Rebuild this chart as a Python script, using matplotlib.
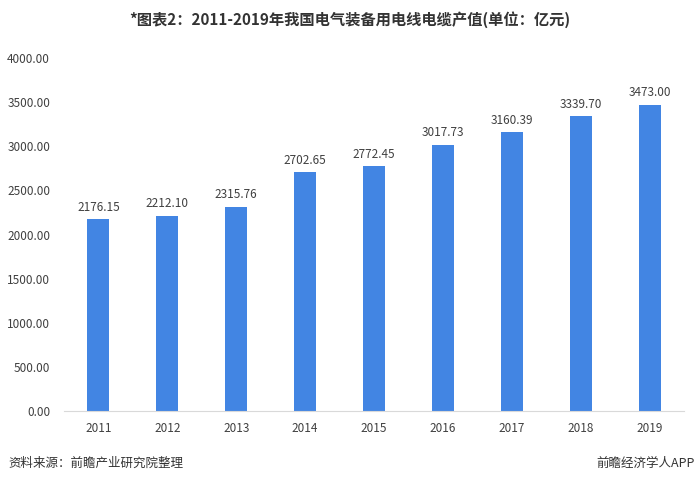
import matplotlib
matplotlib.use("Agg")
import matplotlib.pyplot as plt

plt.rcParams['font.family'] = ['Noto Sans CJK SC', 'DejaVu Sans']

years = ["2011", "2012", "2013", "2014", "2015", "2016", "2017", "2018", "2019"]
values = [2176.15, 2212.10, 2315.76, 2702.65, 2772.45, 3017.73, 3160.39, 3339.70, 3473.00]
yticks = [0, 500, 1000, 1500, 2000, 2500, 3000, 3500, 4000]

fig = plt.figure(figsize=(7, 4.84), dpi=100)
ax = fig.add_axes([64 / 700, 73 / 484, 620 / 700, 353 / 484])

x = range(len(years))
ax.bar(x, values, width=0.32, color="#4285E3")

# labels above bars
for i, v in enumerate(values):
    ax.text(i, v + 60, "%.2f" % v, ha="center", va="bottom", fontsize=8.5, color="#404040")

ax.set_xlim(-0.5, len(years) - 0.5)
ax.set_ylim(0, 4000)
ax.set_xticks(list(x))
ax.set_xticklabels(years, fontsize=8.5, color="#404040")
ax.set_yticks(yticks)
ax.set_yticklabels(["%.2f" % t for t in yticks], fontsize=8.5, color="#404040")
ax.tick_params(axis="both", length=0, pad=8)
ax.tick_params(axis="y", pad=10)

for s in ["top", "right", "left"]:
    ax.spines[s].set_visible(False)
ax.spines["bottom"].set_color("#d9d9d9")

fig.text(0.5, 1 - 20 / 484, "*图表2：2011-2019年我国电气装备用电线电缆产值(单位：亿元)",
         ha="center", va="center", fontsize=11, fontweight="bold", color="#333333")
fig.text(8 / 700, 1 - 463 / 484, "资料来源：前瞻产业研究院整理",
         ha="left", va="center", fontsize=9, color="#333333")
fig.text(695 / 700, 1 - 463 / 484, "前瞻经济学人APP",
         ha="right", va="center", fontsize=9, color="#333333")

fig.savefig("out.png", dpi=100)
